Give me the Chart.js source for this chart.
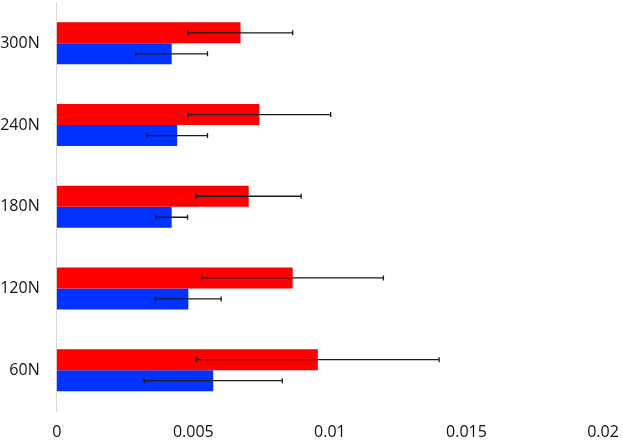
<!DOCTYPE html>
<html>
<head>
<meta charset="utf-8">
<script src="https://cdn.jsdelivr.net/npm/chart.js@4"></script>
<style>
  html, body { margin: 0; padding: 0; background: #fff; }
  #wrap { width: 623px; height: 442px; }
</style>
</head>
<body>
<div id="wrap"><canvas id="c"></canvas></div>
<script>
const labels = ['300N', '240N', '180N', '120N', '60N'];
const redValues = [0.00673, 0.00742, 0.00703, 0.00864, 0.00956];
const redErrors = [0.00191, 0.00261, 0.00192, 0.00332, 0.00444];
const blueValues = [0.00421, 0.00441, 0.00421, 0.00482, 0.00573];
const blueErrors = [0.00131, 0.00111, 0.00058, 0.00120, 0.00253];
const xTicks = [0, 0.005, 0.01, 0.015, 0.02];

// error bars drawn from the x scale, centred on the bar ends
const errorBars = {
  id: 'errorBars',
  afterDatasetsDraw(chart) {
    const ctx = chart.ctx;
    const x = chart.scales.x;
    ctx.save();
    ctx.strokeStyle = '#1a1a1a';
    ctx.lineWidth = 1.3;
    chart.data.datasets.forEach((ds, i) => {
      const meta = chart.getDatasetMeta(i);
      meta.data.forEach((bar, j) => {
        const v = ds.data[j], e = ds.errors[j];
        const x0 = x.getPixelForValue(v - e);
        const x1 = x.getPixelForValue(v + e);
        const y = bar.y;
        ctx.beginPath();
        ctx.moveTo(x0, y); ctx.lineTo(x1, y);
        ctx.moveTo(x0, y - 2.5); ctx.lineTo(x0, y + 2.5);
        ctx.moveTo(x1, y - 2.5); ctx.lineTo(x1, y + 2.5);
        ctx.stroke();
      });
    });
    ctx.restore();
  }
};

new Chart(document.getElementById('c'), {
  type: 'bar',
  data: {
    labels: labels,
    datasets: [
      { data: redValues, errors: redErrors, backgroundColor: '#ff0000', borderWidth: 0 },
      { data: blueValues, errors: blueErrors, backgroundColor: '#0033ff', borderWidth: 0 }
    ]
  },
  options: {
    indexAxis: 'y',
    responsive: true,
    maintainAspectRatio: false,
    animation: false,
    categoryPercentage: 0.514,
    barPercentage: 1,
    layout: { padding: { top: 2.5, right: 20, left: 0, bottom: 0 } },
    plugins: { legend: { display: false }, tooltip: { enabled: false } },
    scales: {
      x: {
        min: 0, max: 0.02,
        afterBuildTicks: s => { s.ticks = xTicks.map(v => ({ value: v })); },
        afterFit: s => { s.height = 31; s.paddingLeft = 0; s.paddingRight = 0; },
        grid: { display: false, drawTicks: false },
        border: { display: false },
        ticks: {
          padding: 12,
          color: '#111',
          font: { family: 'Open Sans', size: 16 },
          maxRotation: 0,
          callback: v => String(v)
        }
      },
      y: {
        afterFit: s => { s.width = 56.7; s.paddingTop = 0; s.paddingBottom = 0; },
        grid: { display: false, drawTicks: false },
        border: { display: true, color: '#d9d9d9', width: 1 },
        ticks: {
          padding: 17,
          color: '#111',
          font: { family: 'Open Sans', size: 16 }
        }
      }
    }
  },
  plugins: [errorBars]
});
</script>
</body>
</html>
